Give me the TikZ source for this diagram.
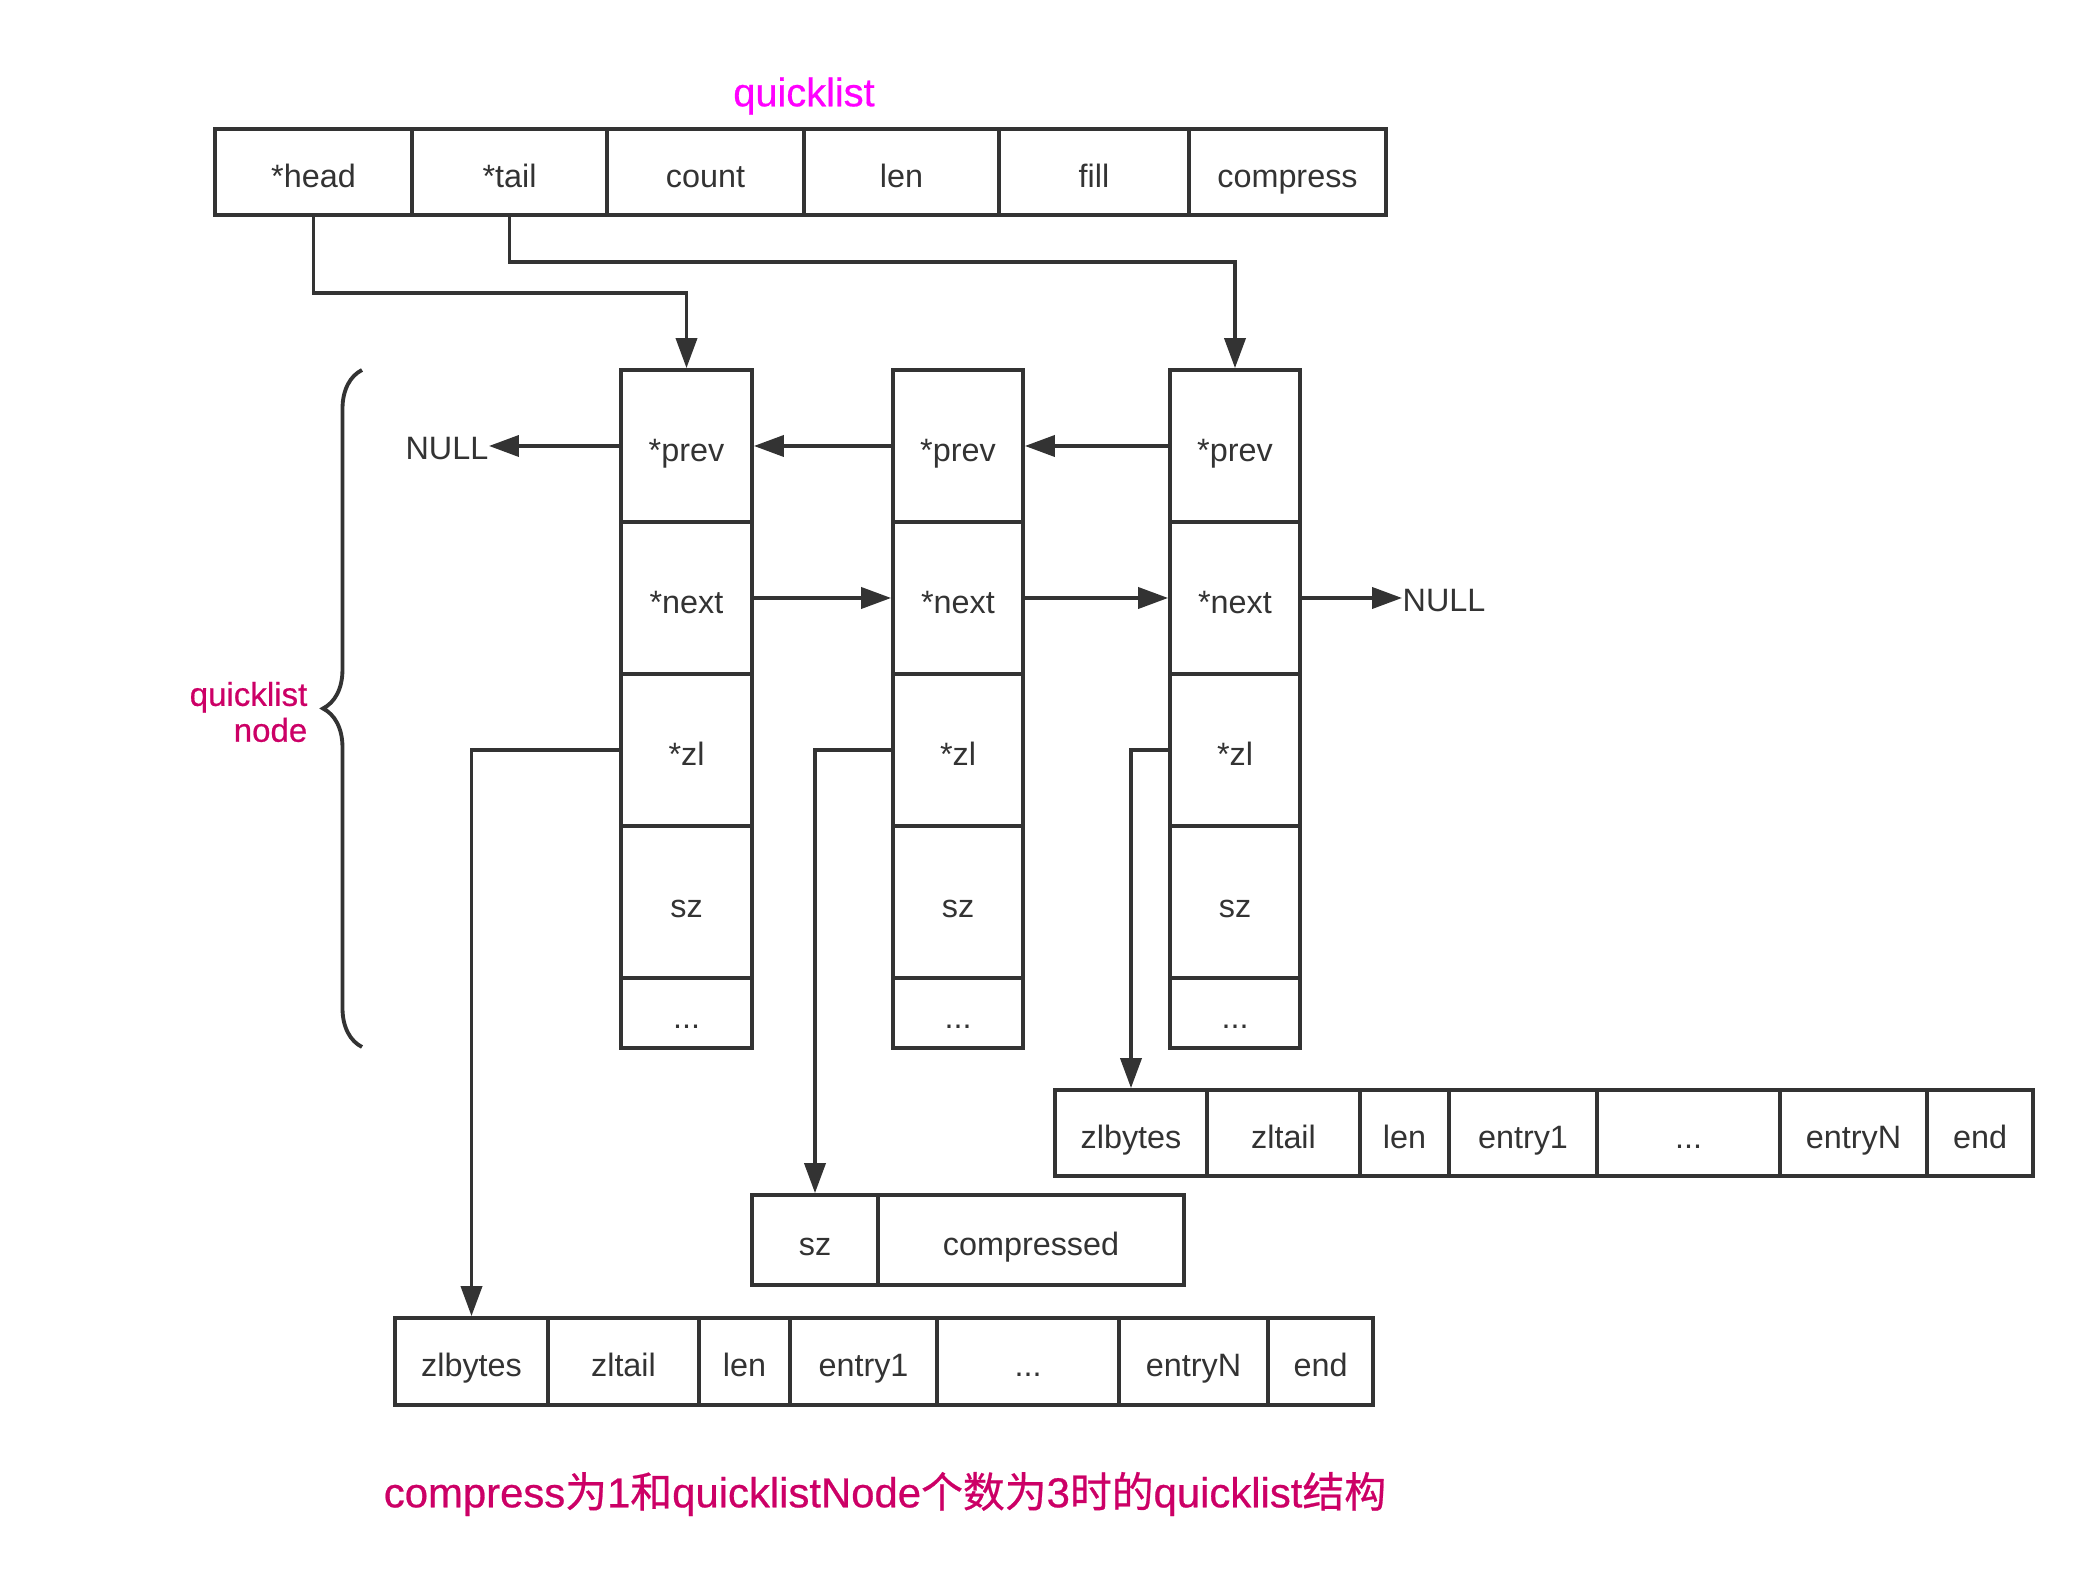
\documentclass[tikz,border=0pt]{standalone}
\usepackage{fontspec}
\setmainfont{Liberation Sans}
\newfontfamily\cjk[FakeBold=0.6]{Noto Sans CJK SC}
\newfontfamily\capfont[FakeBold=0.6]{Liberation Sans}
\usetikzlibrary{arrows.meta,decorations.pathreplacing}
\definecolor{linegray}{HTML}{333333}
\definecolor{titlemag}{HTML}{FF00FF}
\definecolor{notered}{HTML}{CC0066}
% cell box: name, left, right, top, bottom, text
\newcommand{\cellbox}[6]{%
  \node[cell, minimum width={(#3-#2)*0.01cm}, minimum height={(#5-#4)*0.01cm}]
    (#1) at ({(#2+#3)/2},{(#4+#5)/2}) {#6};}

\begin{document}
\begin{tikzpicture}[x=0.01cm,y=-0.01cm,
  cell/.style={draw=linegray, line width=1.1pt, inner sep=0pt,
    text height=8.6pt, text depth=0pt,
    text=linegray, font=\fontsize{9.2}{11}\selectfont},
  link/.style={draw=linegray, line width=0.95pt,
    -{Triangle[length=8.5pt,width=6pt]}},
  plain/.style={inner sep=0pt, text=linegray, font=\fontsize{9.2}{11}\selectfont}]
\useasboundingbox (0,0) rectangle (2084,1574);

% quicklist header
\node[text=titlemag, font=\capfont\fontsize{11.3}{13}\selectfont] (title) at (804,96) {quicklist};
\cellbox{head}{215}{412}{129}{215}{*head}
\cellbox{tail}{412}{607}{129}{215}{*tail}
\cellbox{count}{607}{804}{129}{215}{count}
\cellbox{qlen}{804}{999}{129}{215}{len}
\cellbox{fill}{999}{1189}{129}{215}{fill}
\cellbox{compress}{1189}{1386}{129}{215}{compress}

% quicklist nodes
\foreach \c/\xa/\xb in {1/621/752, 2/893/1023, 3/1170/1300} {
  \cellbox{prev\c}{\xa}{\xb}{370}{522}{*prev}
  \cellbox{next\c}{\xa}{\xb}{522}{674}{*next}
  \cellbox{zl\c}{\xa}{\xb}{674}{826}{*zl}
  \cellbox{sz\c}{\xa}{\xb}{826}{978}{sz}
  \cellbox{more\c}{\xa}{\xb}{978}{1048}{...}
}

\node[plain, anchor=east] (nullL) at (489,449) {NULL};
\node[plain, anchor=west] (nullR) at (1402,601) {NULL};

% brace and its label
\draw[linegray, line width=1.1pt, decorate, decoration={brace, amplitude=0.39cm}]
  (362,1047) -- (362,370);
\node[text=notered, align=right, anchor=east, inner sep=0pt,
  font=\capfont\fontsize{9.4}{10.2}\selectfont] (nodelbl) at (308,712) {quicklist\\node};

% ziplist of the head node
\cellbox{zbytesA}{395}{548}{1318}{1405}{zlbytes}
\cellbox{ztailA}{548}{699}{1318}{1405}{zltail}
\cellbox{zlenA}{699}{790}{1318}{1405}{len}
\cellbox{zfirstA}{790}{937}{1318}{1405}{entry1}
\cellbox{zdotsA}{937}{1119}{1318}{1405}{...}
\cellbox{zlastA}{1119}{1268}{1318}{1405}{entryN}
\cellbox{zendA}{1268}{1373}{1318}{1405}{end}

% compressed middle node
\cellbox{lzfsz}{752}{878}{1195}{1285}{sz}
\cellbox{lzfdata}{878}{1184}{1195}{1285}{compressed}

% ziplist of the tail node
\cellbox{zbytesB}{1055}{1207}{1090}{1176}{zlbytes}
\cellbox{ztailB}{1207}{1360}{1090}{1176}{zltail}
\cellbox{zlenB}{1360}{1449}{1090}{1176}{len}
\cellbox{zfirstB}{1449}{1597}{1090}{1176}{entry1}
\cellbox{zdotsB}{1597}{1780}{1090}{1176}{...}
\cellbox{zlastB}{1780}{1927}{1090}{1176}{entryN}
\cellbox{zendB}{1927}{2033}{1090}{1176}{end}

% pointers
\draw[link] (head.south) -- ++(0,76) -| (prev1.north);
\draw[link] (tail.south) -- ++(0,45) -| (prev3.north);
\draw[link] (prev1.west) -- (nullL.east |- prev1.west);
\draw[link] (prev2.west) -- (prev1.east);
\draw[link] (prev3.west) -- (prev2.east);
\draw[link] (next1.east) -- (next2.west);
\draw[link] (next2.east) -- (next3.west);
\draw[link] (next3.east) -- (nullR.west |- next3.east);
\draw[link] (zl1.west) -| (zbytesA.north);
\draw[link] (zl2.west) -| (lzfsz.north);
\draw[link] (zl3.west) -| (zbytesB.north);

\node[text=notered, font=\capfont\fontsize{11.9}{14}\selectfont] (caption) at (885,1494)
  {compress{\cjk 为}1{\cjk 和}quicklistNode{\cjk 个数为}3{\cjk 时的}quicklist{\cjk 结构}};
\end{tikzpicture}
\end{document}
